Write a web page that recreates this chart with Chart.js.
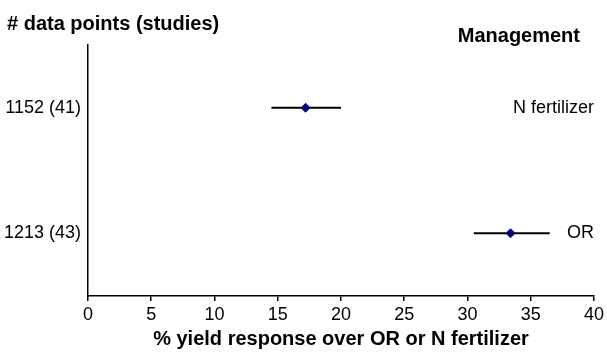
<!DOCTYPE html>
<html>
<head>
<meta charset="utf-8">
<script src="https://cdn.jsdelivr.net/npm/chart.js@4"></script>
<style>
  html, body { margin: 0; padding: 0; background: #fff; }
  canvas { display: block; }
</style>
</head>
<body>
<canvas id="chart" width="607" height="352"></canvas>
<script>
'use strict';

// Filas del gráfico (de arriba abajo)
const ROW_LABELS  = ['1152 (41)', '1213 (43)'];
const MANAGEMENT  = ['N fertilizer', 'OR'];
const MEANS       = [17.2, 33.4];
const LOWS        = [14.5, 30.5];
const HIGHS       = [20.0, 36.5];
const ROW_POS     = [3, 1];
const X_TICKS     = [0, 5, 10, 15, 20, 25, 30, 35, 40];

const FONT   = "'Liberation Sans', Arial, sans-serif";
const NAVY   = '#000080';
const BLACK  = '#000';

Chart.defaults.font.family = FONT;
Chart.defaults.color = BLACK;

// Textos fijos: títulos y etiquetas de manejo a la derecha
const textos = {
  id: 'textos',
  afterDraw(chart) {
    const { ctx, scales: { x, y } } = chart;
    ctx.save();
    ctx.fillStyle = BLACK;
    ctx.font = `bold 20px ${FONT}`;
    ctx.textAlign = 'left';
    ctx.textBaseline = 'alphabetic';
    ctx.fillText('# data points (studies)', 7, 30);
    ctx.textAlign = 'right';
    ctx.fillText('Management', 580, 42);

    ctx.font = `18px ${FONT}`;
    ctx.textBaseline = 'middle';
    const xr = x.getPixelForValue(X_TICKS[X_TICKS.length - 1]);
    MANAGEMENT.forEach((m, i) => {
      ctx.fillText(m, xr, y.getPixelForValue(ROW_POS[i]));
    });
    ctx.restore();
  }
};

const puntos = MEANS.map((m, i) => ({ x: m, y: ROW_POS[i] }));
const barras = MEANS.map((_, i) => ({
  type: 'scatter',
  showLine: true,
  data: [{ x: LOWS[i], y: ROW_POS[i] }, { x: HIGHS[i], y: ROW_POS[i] }],
  borderColor: BLACK,
  borderWidth: 2,
  pointRadius: 0,
  order: 1,
}));

new Chart(document.getElementById('chart'), {
  type: 'scatter',
  data: {
    datasets: [{
      data: puntos,
      pointStyle: 'rectRot',
      pointRadius: 4.5,
      backgroundColor: NAVY,
      borderColor: NAVY,
      borderWidth: 1,
      order: 0,
    }, ...barras],
  },
  options: {
    responsive: false,
    animation: false,
    layout: { padding: { top: 45, right: 10, left: 0, bottom: 0 } },
    plugins: { legend: { display: false }, tooltip: { enabled: false } },
    scales: {
      x: {
        type: 'linear',
        min: X_TICKS[0], max: X_TICKS[X_TICKS.length - 1],
        afterBuildTicks: s => { s.ticks = X_TICKS.map(v => ({ value: v })); },
        afterFit: s => { s.height = 56; },
        grid: { drawOnChartArea: false, drawTicks: true, tickLength: 5, color: BLACK, lineWidth: 1.5 },
        border: { display: true, color: BLACK, width: 1.5 },
        ticks: { font: { size: 18 }, color: BLACK, padding: 3, maxRotation: 0 },
        title: {
          display: true,
          text: '% yield response over OR or N fertilizer',
          font: { size: 20, weight: 'bold' },
          color: BLACK,
          padding: { top: 0, bottom: 1 },
        },
      },
      y: {
        type: 'linear',
        min: 0, max: 4,
        afterBuildTicks: s => { s.ticks = ROW_POS.map(v => ({ value: v })); },
        afterFit: s => { s.width = 88; },
        grid: { display: false, drawTicks: false },
        border: { display: true, color: BLACK, width: 1.5 },
        ticks: {
          font: { size: 18 }, color: BLACK, padding: 7,
          callback: v => ROW_LABELS[ROW_POS.indexOf(v)] ?? '',
        },
      },
    },
  },
  plugins: [textos],
});
</script>
</body>
</html>
